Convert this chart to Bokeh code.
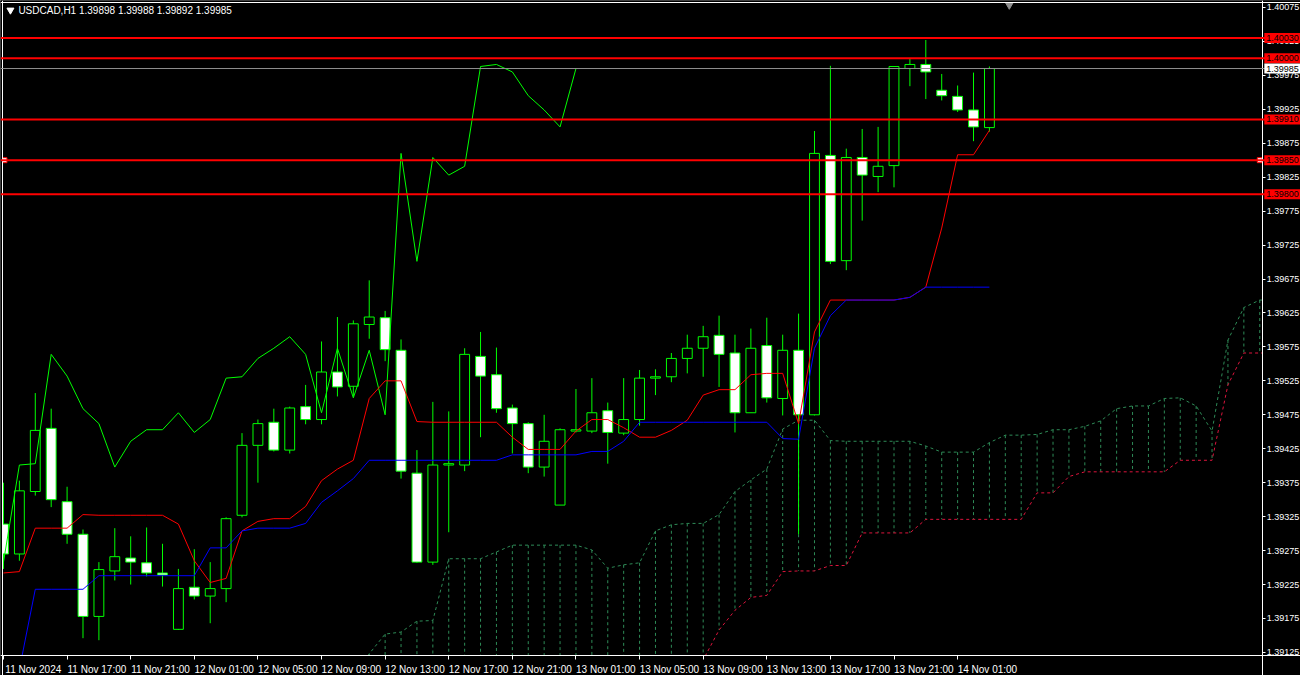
from bokeh.plotting import figure
from bokeh.models import Range1d, LinearAxis, FixedTicker, PrintfTickFormatter, Span, Label, ColumnDataSource
from bokeh.embed import file_html
from bokeh.resources import INLINE

# ---- data: USDCAD H1, bar 0 = 11 Nov 2024 13:00, one bar per hour ----
opens = [1.39314, 1.39270, 1.39362, 1.39455, 1.39347, 1.39299, 1.39178, 1.39245, 1.39264, 1.39257,
         1.39242, 1.39159, 1.39221, 1.39208, 1.39219, 1.39327, 1.39430, 1.39464, 1.39423, 1.39487,
         1.39468, 1.39538, 1.39517, 1.39608, 1.39618, 1.39570, 1.39389, 1.39258, 1.39401, 1.39401,
         1.39561, 1.39534, 1.39485, 1.39462, 1.39398, 1.39342, 1.39451, 1.39451, 1.39481, 1.39448,
         1.39468, 1.39529, 1.39531, 1.39558, 1.39573, 1.39592, 1.39566, 1.39478, 1.39577, 1.39499,
         1.39570, 1.39475, 1.39857, 1.39702, 1.39854, 1.39826, 1.39842, 1.39985, 1.39991, 1.39953,
         1.39944, 1.39924, 1.39898]
highs = [1.39375, 1.39378, 1.39507, 1.39484, 1.39369, 1.39306, 1.39258, 1.39308, 1.39296, 1.39309,
         1.39285, 1.39248, 1.39277, 1.39258, 1.39324, 1.39448, 1.39468, 1.39484, 1.39487, 1.39519,
         1.39583, 1.39619, 1.39614, 1.39673, 1.39628, 1.39586, 1.39423, 1.39494, 1.39480, 1.39573,
         1.39597, 1.39574, 1.39490, 1.39464, 1.39475, 1.39455, 1.39513, 1.39529, 1.39493, 1.39529,
         1.39541, 1.39542, 1.39566, 1.39593, 1.39606, 1.39621, 1.39593, 1.39602, 1.39618, 1.39593,
         1.39624, 1.39893, 1.39989, 1.39867, 1.39896, 1.39899, 1.39988, 1.39999, 1.40027, 1.39977,
         1.39960, 1.39979, 1.39988]
lows = [1.39248, 1.39260, 1.39356, 1.39339, 1.39285, 1.39146, 1.39143, 1.39231, 1.39225, 1.39237,
        1.39222, 1.39158, 1.39203, 1.39168, 1.39199, 1.39324, 1.39375, 1.39421, 1.39418, 1.39461,
        1.39461, 1.39502, 1.39502, 1.39587, 1.39554, 1.39381, 1.39257, 1.39254, 1.39302, 1.39392,
        1.39442, 1.39478, 1.39418, 1.39389, 1.39384, 1.39342, 1.39449, 1.39448, 1.39403, 1.39445,
        1.39459, 1.39504, 1.39523, 1.39536, 1.39531, 1.39516, 1.39449, 1.39478, 1.39493, 1.39474,
        1.39299, 1.39474, 1.39697, 1.39688, 1.39761, 1.39803, 1.39810, 1.39959, 1.39940, 1.39938,
        1.39921, 1.39878, 1.39892]
closes = [1.39270, 1.39363, 1.39452, 1.39350, 1.39299, 1.39178, 1.39247, 1.39266, 1.39258, 1.39242,
          1.39239, 1.39219, 1.39208, 1.39219, 1.39322, 1.39430, 1.39462, 1.39423, 1.39485, 1.39468,
          1.39538, 1.39516, 1.39609, 1.39619, 1.39571, 1.39392, 1.39258, 1.39401, 1.39403, 1.39564,
          1.39532, 1.39484, 1.39462, 1.39398, 1.39436, 1.39453, 1.39453, 1.39478, 1.39449, 1.39468,
          1.39529, 1.39531, 1.39558, 1.39573, 1.39590, 1.39564, 1.39478, 1.39573, 1.39500, 1.39570,
          1.39475, 1.39860, 1.39701, 1.39854, 1.39828, 1.39841, 1.39988, 1.39991, 1.39980, 1.39945,
          1.39924, 1.39899, 1.39985]

tenkan = [1.39242, 1.39244, 1.39308, 1.39308, 1.39308, 1.39328, 1.39327, 1.39327, 1.39327, 1.39327,
          1.39327, 1.39314, 1.39260, 1.39228, 1.39234, 1.39304, 1.39318, 1.39322, 1.39322, 1.39340,
          1.39378, 1.39395, 1.39408, 1.39499, 1.39525, 1.39525, 1.39465, 1.39464, 1.39464, 1.39464,
          1.39464, 1.39464, 1.39442, 1.39424, 1.39424, 1.39424, 1.39451, 1.39468, 1.39468, 1.39456,
          1.39442, 1.39442, 1.39452, 1.39467, 1.39504, 1.39512, 1.39512, 1.39534, 1.39536, 1.39536,
          1.39462, 1.39597, 1.39644, 1.39644, 1.39644, 1.39644, 1.39644, 1.39648, 1.39663, 1.39750,
          1.39858, 1.39858, 1.39894]
kijun = [1.39100, 1.39100, 1.39218, 1.39218, 1.39218, 1.39218, 1.39238, 1.39238, 1.39238, 1.39238,
         1.39238, 1.39238, 1.39238, 1.39279, 1.39279, 1.39304, 1.39308, 1.39308, 1.39308, 1.39315,
         1.39346, 1.39363, 1.39381, 1.39408, 1.39408, 1.39408, 1.39408, 1.39408, 1.39408, 1.39408,
         1.39408, 1.39408, 1.39416, 1.39416, 1.39416, 1.39416, 1.39416, 1.39421, 1.39421, 1.39436,
         1.39464, 1.39464, 1.39464, 1.39464, 1.39464, 1.39464, 1.39464, 1.39464, 1.39464, 1.39440,
         1.39439, 1.39573, 1.39621, 1.39644, 1.39644, 1.39644, 1.39644, 1.39648, 1.39663, 1.39663,
         1.39663, 1.39663, 1.39663]

# Senkou spans (cloud), first value at bar 22, projected 26 bars ahead
span_first_bar = 22
span_a = [1.39081, 1.39123, 1.39152, 1.39155, 1.39171, 1.39172, 1.39263, 1.39263, 1.39263, 1.39273,
          1.39283, 1.39283, 1.39283, 1.39283, 1.39283, 1.39276, 1.39249, 1.39254, 1.39257, 1.39304,
          1.39313, 1.39315, 1.39315, 1.39328, 1.39362, 1.39379, 1.39395, 1.39454, 1.39467, 1.39467,
          1.39437, 1.39436, 1.39436, 1.39436, 1.39436, 1.39436, 1.39429, 1.39420, 1.39420, 1.39420,
          1.39434, 1.39445, 1.39445, 1.39446, 1.39453, 1.39453, 1.39458, 1.39466, 1.39484, 1.39488,
          1.39488, 1.39499, 1.39500, 1.39488, 1.39451, 1.39585, 1.39633, 1.39644, 1.39644, 1.39644]
span_b = [1.39060, 1.39060, 1.39060, 1.39060, 1.39060, 1.39060, 1.39060, 1.39060, 1.39060, 1.39060,
          1.39060, 1.39060, 1.39060, 1.39060, 1.39060, 1.39060, 1.39060, 1.39060, 1.39060, 1.39060,
          1.39060, 1.39060, 1.39114, 1.39158, 1.39187, 1.39206, 1.39209, 1.39244, 1.39245, 1.39245,
          1.39253, 1.39253, 1.39301, 1.39301, 1.39301, 1.39301, 1.39321, 1.39321, 1.39321, 1.39321,
          1.39321, 1.39321, 1.39321, 1.39360, 1.39360, 1.39384, 1.39391, 1.39391, 1.39391, 1.39391,
          1.39391, 1.39391, 1.39408, 1.39408, 1.39408, 1.39519, 1.39566, 1.39566, 1.39566, 1.39566]

chikou_shift = 26

time_label_bars = [0, 4, 8, 12, 16, 20, 24, 28, 32, 36, 40, 44, 48, 52, 56, 60]
time_labels = ["11 Nov 2024", "11 Nov 17:00", "11 Nov 21:00", "12 Nov 01:00", "12 Nov 05:00",
               "12 Nov 09:00", "12 Nov 13:00", "12 Nov 17:00", "12 Nov 21:00", "13 Nov 01:00",
               "13 Nov 05:00", "13 Nov 09:00", "13 Nov 13:00", "13 Nov 17:00", "13 Nov 21:00",
               "14 Nov 01:00"]

price_ticks = [1.39125, 1.39175, 1.39225, 1.39275, 1.39325, 1.39375, 1.39425, 1.39475, 1.39525,
               1.39575, 1.39625, 1.39675, 1.39725, 1.39775, 1.39825, 1.39875, 1.39925, 1.39975,
               1.40025, 1.40075]

level_lines = [1.40030, 1.40000, 1.39910, 1.39850, 1.39800]
bid_price = closes[-1]
selected_level = 1.39850
symbol = "USDCAD,H1"

# ---- layout (terminal window: bars every 16 px) ----
X0, X1 = -0.1875, 81.5625          # whole canvas, in bars
Y0, Y1 = 1.390910, 1.400852        # whole canvas, in price
AXIS_X = 79.1875                   # price scale line
AXIS_Y = 1.391201                  # time scale line
LEFT_X = -0.0625
TOP_Y = 1.400823

FONT = "Liberation Sans"
SCALE_FONT_SIZE = "9px"
LIME = "#00FF00"
SPAN_A_COLOR = "#2E8B57"
SPAN_B_COLOR = "#DC143C"

p = figure(width=1300, height=675, x_range=Range1d(X0, X1), y_range=Range1d(Y0, Y1),
           output_backend="svg", toolbar_location=None,
           x_axis_location=None, y_axis_location=None,
           background_fill_color="black", border_fill_color="black",
           min_border_left=0, min_border_top=0, min_border_right=0, min_border_bottom=0)
p.outline_line_color = None
p.xgrid.visible = False
p.ygrid.visible = False

def frame_axis(loc, side):
    ax = LinearAxis(fixed_location=loc, ticker=FixedTicker(ticks=[]), axis_line_color="white",
                    major_tick_line_color=None, minor_tick_line_color=None, major_label_text_color=None)
    p.add_layout(ax, side)

yax = LinearAxis(fixed_location=AXIS_X, ticker=FixedTicker(ticks=price_ticks),
                 formatter=PrintfTickFormatter(format="%.5f"),
                 axis_line_color="white", major_tick_line_color="white", major_tick_in=0, major_tick_out=3,
                 minor_tick_line_color=None, major_label_text_color="white",
                 major_label_text_font=FONT, major_label_text_font_size=SCALE_FONT_SIZE,
                 major_label_standoff=1)

label_centres = [b + 1.875 for b in time_label_bars]
xax = LinearAxis(fixed_location=AXIS_Y, ticker=FixedTicker(ticks=label_centres, minor_ticks=time_label_bars),
                 major_label_overrides={c: t for c, t in zip(label_centres, time_labels)},
                 axis_line_color="white", major_tick_line_color=None, major_tick_out=0, major_tick_in=0,
                 minor_tick_line_color="white", minor_tick_out=4, minor_tick_in=0,
                 major_label_text_color="white", major_label_text_font=FONT,
                 major_label_text_font_size="10px", major_label_standoff=4)

# ---- Ichimoku cloud ----
span_x = [span_first_bar + k for k in range(len(span_a))]
hatch_col = [SPAN_A_COLOR if a >= b else SPAN_B_COLOR for a, b in zip(span_a, span_b)]
p.segment(x0=span_x, y0=span_a, x1=span_x, y1=span_b, line_color=hatch_col, line_width=1, line_dash="3 3")
p.line(span_x, span_a, line_color=SPAN_A_COLOR, line_width=1, line_dash="3 3")
p.line(span_x, span_b, line_color=SPAN_B_COLOR, line_width=1, line_dash="3 3")

# ---- candles ----
idx = list(range(len(opens)))
src = ColumnDataSource(dict(
    x=idx, h=highs, l=lows,
    top=[max(o, c) for o, c in zip(opens, closes)],
    bot=[min(o, c) for o, c in zip(opens, closes)],
    fill=["black" if c >= o else "white" for o, c in zip(opens, closes)],
))
p.segment(x0="x", y0="h", x1="x", y1="l", source=src, line_color=LIME, line_width=1)
p.vbar(x="x", width=0.62, top="top", bottom="bot", source=src,
       fill_color="fill", line_color=LIME, line_width=1)

# ---- Ichimoku lines ----
p.line([i - chikou_shift for i in idx[chikou_shift:]], closes[chikou_shift:], line_color=LIME, line_width=1)
p.line(idx, tenkan, line_color="#FF0000", line_width=1)
p.line(idx, kijun, line_color="#0000FF", line_width=1)

# selection handles on one level
p.scatter([0.0625, 79.0], [selected_level, selected_level], marker="square", size=5,
          fill_color="white", line_color="#FF0000", line_width=1)

# header marker and chart-shift marker
p.scatter([0.4375], [1.40071], marker="inverted_triangle", size=7, fill_color="white", line_color="white")
p.scatter([63.25], [1.40079], marker="inverted_triangle", size=8, fill_color="#909090", line_color="#909090")

# mask everything outside the chart window (scales area)
p.quad(left=[AXIS_X, X0 - 1, X0 - 1, X0 - 1], right=[X1 + 1, X1 + 1, LEFT_X, X1 + 1],
       bottom=[Y0 - 0.001, Y0 - 0.001, Y0 - 0.001, TOP_Y], top=[Y1 + 0.001, AXIS_Y, Y1 + 0.001, Y1 + 0.001],
       fill_color="black", line_color=None)

p.add_layout(yax, "right")
p.add_layout(xax, "below")
frame_axis(LEFT_X, "left")
frame_axis(TOP_Y, "above")

# ---- horizontal levels ----
for lv in level_lines:
    p.add_layout(Span(location=lv, dimension="width", line_color="#FF0000", line_width=2))
p.add_layout(Span(location=bid_price, dimension="width", line_color="#909090", line_width=1))

# price tags on the scale
for lv in level_lines:
    p.add_layout(Label(x=AXIS_X + 0.1, y=lv, text=f"{lv:.5f}", text_font=FONT,
                       text_font_size=SCALE_FONT_SIZE, text_color="black", text_baseline="middle",
                       text_align="left", background_fill_color="#FF0000", padding=2))
p.add_layout(Label(x=AXIS_X + 0.1, y=bid_price, text=f"{bid_price:.5f}", text_font=FONT,
                   text_font_size=SCALE_FONT_SIZE, text_color="black", text_baseline="middle",
                   text_align="left", background_fill_color="white", padding=2))

p.add_layout(Label(x=0.9375, y=1.40071,
                   text=f"{symbol}  {opens[-1]:.5f} {highs[-1]:.5f} {lows[-1]:.5f} {closes[-1]:.5f}",
                   text_font=FONT, text_font_size="10px", text_color="white",
                   text_baseline="middle", text_align="left"))

open("out.html", "w").write(file_html(p, INLINE))
